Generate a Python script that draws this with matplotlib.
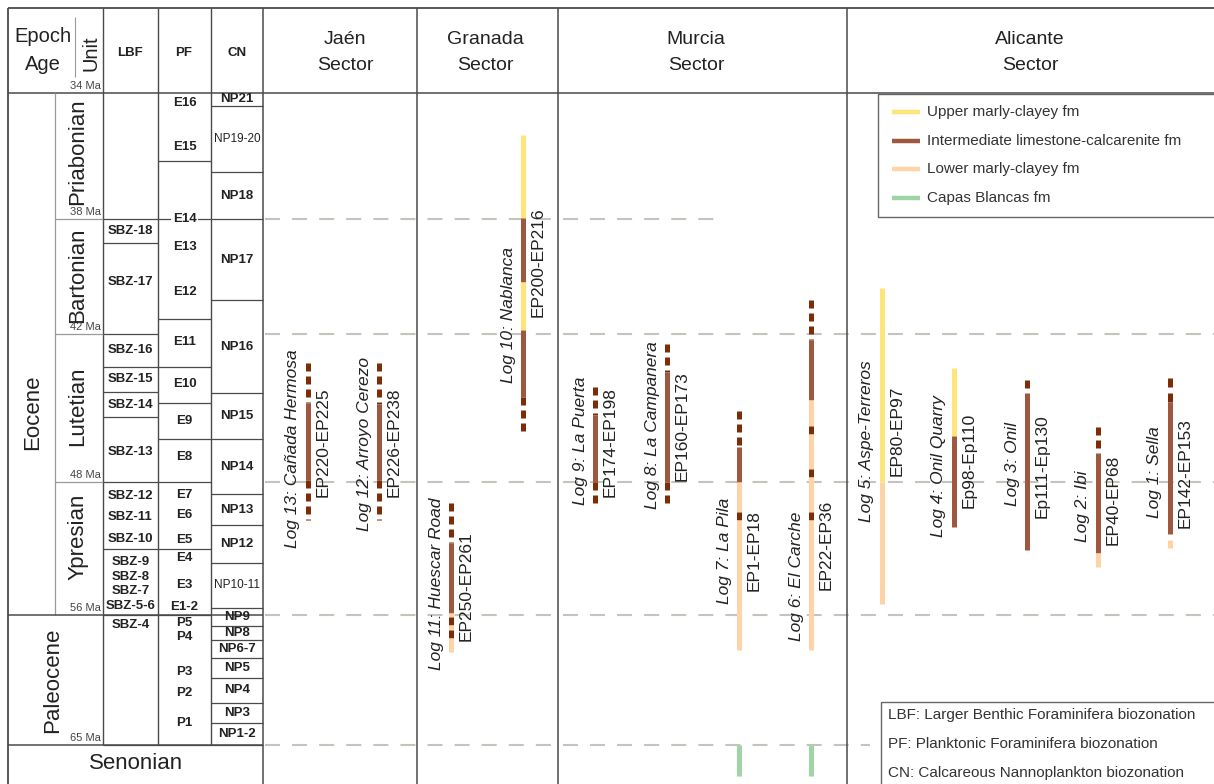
import numpy as np
import matplotlib
matplotlib.use("Agg")
import matplotlib.pyplot as plt
import matplotlib.transforms as mtransforms
from matplotlib.patches import Rectangle

plt.rcParams["font.family"] = ["Liberation Sans", "DejaVu Sans"]

W, H = 1214, 784

# vertical age scale: chart position of each stage boundary (Ma -> row)
SCALE_MA = [34, 38, 42, 48, 56, 65]
SCALE_POS = [93, 219, 334, 482, 615, 745]

# chronostratigraphy
STAGES = ["Priabonian", "Bartonian", "Lutetian", "Ypresian"]
STAGE_BASE_MA = [38, 42, 48, 56]
STAGE_LABEL_MA = [35.87, 39.95, 44.92, 51.31]
AGE_TICKS = [34, 38, 42, 48, 56, 65]
EPOCHS = ["Eocene", "Paleocene"]
EPOCH_LABEL_MA = [45.16, 60.5]

# larger benthic foraminifera (box edges + label ages)
LBF_EDGES = [38, 38.83, 42, 43.34, 44.35, 45.36, 48, 52.03, 56, 65]
LBF_LABELS = ["SBZ-18", "SBZ-17", "SBZ-16", "SBZ-15", "SBZ-14", "SBZ-13",
              "SBZ-12", "SBZ-11", "SBZ-10", "SBZ-9", "SBZ-8", "SBZ-7",
              "SBZ-5-6", "SBZ-4"]
LBF_LABEL_MA = [38.42, 40.19, 42.65, 43.82, 44.88, 46.78, 48.84, 50.11,
                51.43, 52.81, 53.71, 54.56, 55.46, 56.69]

# planktonic foraminifera
PF_EDGES = [36.16, 38, 41.48, 43.34, 44.80, 46.26, 48, 52.03, 56, 65]
PF_LABELS = ["E16", "E15", "E14", "E13", "E12", "E11", "E10", "E9", "E8",
             "E7", "E6", "E5", "E4", "E3", "E1-2", "P5", "P4", "P3", "P2", "P1"]
PF_LABEL_MA = [34.32, 35.71, 38.0, 38.97, 40.54, 42.32, 44.03, 45.53, 46.99,
               48.78, 49.98, 51.49, 52.57, 54.2, 55.52, 56.55, 57.52, 59.95,
               61.4, 63.48]

# calcareous nannoplankton (zone name + base age)
CN_ZONES = ["NP21", "NP19-20", "NP18", "NP17", "NP16", "NP15", "NP14", "NP13",
            "NP12", "NP10-11", "NP9", "NP8", "NP6-7", "NP5", "NP4", "NP3", "NP1-2"]
CN_BASE_MA = [34.41, 36.51, 38.0, 40.82, 44.39, 46.26, 48.72, 50.59, 52.87,
              55.58, 56.76, 57.73, 58.98, 60.36, 62.09, 63.48, 65.0]

# correlation lines across the sectors
CORR_MA = [38, 42, 48, 56, 65]
CORR_END_X = [720, 1214, 1214, 1214, 870]

# logs: U upper marly-clayey, I intermediate limestone-calcarenite,
# L lower marly-clayey, C Capas Blancas, D/x poorly exposed limestone
LOG_NAMES = ["Log 13: Cañada Hermosa", "Log 12: Arroyo Cerezo",
             "Log 11: Huescar Road", "Log 10: Nablanca", "Log 9: La Puerta",
             "Log 8: La Campanera", "Log 7: La Pila", "Log 6: El Carche",
             "Log 5: Aspe-Terreros", "Log 4: Onil Quarry", "Log 3: Onil",
             "Log 2: Ibi", "Log 1: Sella"]
LOG_SAMPLES = ["EP220-EP225", "EP226-EP238", "EP250-EP261", "EP200-EP216",
               "EP174-EP198", "EP160-EP173", "EP1-EP18", "EP22-EP36",
               "EP80-EP97", "Ep98-Ep110", "Ep111-Ep130", "EP40-EP68",
               "EP142-EP153"]
LOG_SEGMENTS = [
    [(43.18, 44.80, "x"), (44.80, 47.92, "I"), (47.92, 50.29, "x")],
    [(43.18, 44.84, "x"), (44.84, 47.92, "I"), (47.92, 50.29, "x")],
    [(49.26, 51.67, "x"), (51.67, 55.88, "I"), (55.88, 56.14, "L"),
     (56.14, 56.69, "D"), (56.69, 57.04, "L"), (57.04, 57.59, "D"),
     (57.59, 58.56, "L")],
    [(35.33, 37.97, "U"), (37.97, 40.19, "I"), (40.19, 41.86, "U"),
     (41.86, 44.55, "I"), (44.55, 45.97, "x")],
    [(44.15, 45.28, "x"), (45.28, 48.0, "I"), (48.0, 49.26, "x")],
    [(42.41, 43.54, "x"), (43.54, 48.0, "I"), (48.0, 49.26, "x")],
    [(45.12, 46.58, "x"), (46.58, 48.0, "I"), (48.0, 49.80, "L"),
     (49.80, 50.29, "D"), (50.29, 58.42, "L"), (65.0, 67.15, "C")],
    [(40.82, 42.24, "x"), (42.24, 44.68, "I"), (44.68, 45.73, "L"),
     (45.73, 46.05, "D"), (46.05, 47.47, "L"), (47.47, 47.80, "D"),
     (47.80, 49.80, "L"), (49.80, 50.29, "D"), (50.29, 58.42, "L"),
     (65.0, 67.15, "C")],
    [(40.40, 48.0, "U"), (48.0, 55.34, "L")],
    [(43.38, 46.13, "U"), (46.13, 50.71, "I")],
    [(43.86, 44.19, "D"), (44.39, 52.09, "I")],
    [(45.77, 46.09, "D"), (46.30, 46.62, "D"), (46.82, 52.27, "I"),
     (52.27, 53.11, "L")],
    [(43.78, 44.15, "D"), (44.39, 44.76, "D"), (44.76, 51.13, "I"),
     (51.49, 51.97, "L")],
]
LOG_X = [308, 379, 451, 523, 595, 667, 739, 811, 882, 954, 1027, 1098, 1170]
LOG_LABEL_MA = [46.64, 46.46, 54.14, 41.34, 46.34, 45.69, 52.15, 53.65,
                46.34, 47.35, 47.27, 49.44, 47.59]
LOG_SAMPLE_MA = [46.38, 46.38, 54.26, 39.5, 46.38, 45.73, 52.15, 51.79,
                 45.93, 47.11, 47.35, 49.08, 47.63]

FM_LABELS = ["Upper marly-clayey fm", "Intermediate limestone-calcarenite fm",
             "Lower marly-clayey fm", "Capas Blancas fm"]
FM_CODES = ["U", "I", "L", "C"]
NOTES = ["LBF: Larger Benthic Foraminifera biozonation",
         "PF: Planktonic Foraminifera biozonation",
         "CN: Calcareous Nannoplankton biozonation"]

COLORS = {"U": "#FFE47A", "I": "#A0573F", "L": "#FFD3A6", "C": "#9FD4A4",
          "D": "#7E2C08", "x": "#7E2C08"}
TXT = "#222222"
LINE = "#4a4a4a"


def _interp_ext(v, xs, ys):
    v = np.asarray(v, dtype=float)
    out = np.interp(v, xs, ys)
    lo = (ys[1] - ys[0]) / (xs[1] - xs[0])
    hi = (ys[-1] - ys[-2]) / (xs[-1] - xs[-2])
    out = np.where(v < xs[0], ys[0] + (v - xs[0]) * lo, out)
    out = np.where(v > xs[-1], ys[-1] + (v - xs[-1]) * hi, out)
    return out


def ma_to_pos(a):
    return _interp_ext(a, SCALE_MA, SCALE_POS)


def pos_to_ma(p):
    return _interp_ext(p, SCALE_POS, SCALE_MA)


def mid_ma(a, b):
    return float(pos_to_ma((ma_to_pos(a) + ma_to_pos(b)) / 2))


fig = plt.figure(figsize=(W / 100, H / 100), dpi=100)
ax = fig.add_axes([0, 0, 1, 1])
ax.set_autoscale_on(False)
ax.set_yscale("function", functions=(ma_to_pos, pos_to_ma))
ax.set_xlim(0, W)
ax.set_ylim(float(pos_to_ma(H)), float(pos_to_ma(0)))
ax.axis("off")

# pixel-style transform for the frame, header and legend boxes
px = mtransforms.Affine2D().scale(1 / W, -1 / H).translate(0, 1) + fig.transFigure


def pline(xs, ys, **kw):
    kw.setdefault("color", LINE)
    kw.setdefault("lw", 1.0)
    ax.plot(xs, ys, transform=px, solid_capstyle="butt", **kw)


# ---- frame
pline([8, W], [8, 8], lw=1.3)
pline([8, W], [93, 93], lw=1.1)
pline([8, 8], [8, H], lw=1.3)
for x in (103, 158, 211):
    pline([x, x], [8, 745])
for x in (263, 417, 558, 847):
    pline([x, x], [8, H], lw=1.1)
pline([75, 75], [17, 77], color="#9a9a9a", lw=0.8)

ax.vlines(55, 34, 56, color="#9a9a9a", lw=0.9)
ax.hlines([56, 65], 8, 263, color=LINE, lw=1.1)
ax.hlines(STAGE_BASE_MA[:-1], 55, 103, color="#9a9a9a", lw=0.9)

# ---- header
ax.text(43, 37, "Epoch", transform=px, ha="center", va="center",
        fontsize=14.5, color=TXT)
ax.text(43, 65, "Age", transform=px, ha="center", va="center",
        fontsize=14.5, color=TXT)
ax.text(91, 53, "Unit", transform=px, ha="center", va="center", rotation=90,
        fontsize=14.5, color=TXT)
for x, t in zip((130, 184, 237), ("LBF", "PF", "CN")):
    ax.text(x, 53, t, transform=px, ha="center", va="center",
            fontsize=9.5, fontweight="bold", color=TXT)
for x, t in zip((345, 485, 696, 1030), ("Jaén", "Granada", "Murcia", "Alicante")):
    ax.text(x, 40, t, transform=px, ha="center", va="center",
            fontsize=14, color=TXT)
    ax.text(x, 66, "Sector", transform=px, ha="center", va="center",
            fontsize=14, color=TXT)

# ---- epochs, stages, ages
for t, m, x in zip(EPOCHS, EPOCH_LABEL_MA, (33, 53)):
    ax.text(x, m, t, rotation=90, ha="center", va="center", fontsize=16,
            color=TXT)
for t, m in zip(STAGES, STAGE_LABEL_MA):
    ax.text(78, m, t, rotation=90, ha="center", va="center", fontsize=16,
            color=TXT)
for a in AGE_TICKS:
    ax.annotate(f"{a} Ma", (101, a), xytext=(0, 1.5), textcoords="offset points",
                ha="right", va="bottom", fontsize=8, color="#444444")
ax.text(136, 66.25, "Senonian", ha="center", va="center", fontsize=16,
        color=TXT)

# ---- biozone columns
ax.hlines(LBF_EDGES, 103, 158, color=LINE, lw=0.9)
ax.hlines(PF_EDGES, 158, 211, color=LINE, lw=0.9)
ax.hlines(CN_BASE_MA, 211, 263, color=LINE, lw=0.9)
for t, m in zip(LBF_LABELS, LBF_LABEL_MA):
    ax.text(130.5, m, t, ha="center", va="center", fontsize=9.5,
            fontweight="bold", color=TXT)
for t, m in zip(PF_LABELS, PF_LABEL_MA):
    bb = dict(facecolor="white", edgecolor="none", pad=1) if m in STAGE_BASE_MA else None
    ax.text(184.5, m, t, ha="center", va="center", fontsize=9.5,
            fontweight="bold", color=TXT, bbox=bb)
top = 34
for t, base in zip(CN_ZONES, CN_BASE_MA):
    small = len(t) > 5
    ax.text(237, mid_ma(top, base), t, ha="center", va="center",
            fontsize=8.5 if small else 9.5,
            fontweight="normal" if small else "bold", color=TXT)
    top = base

# ---- correlation lines
for m, xe in zip(CORR_MA, CORR_END_X):
    ax.plot([265, xe], [m, m], color="#c4c4bc", lw=1.5, ls=(0, (7.2, 5.8)),
            zorder=1)

# ---- logs
for i, x in enumerate(LOG_X):
    for t0, t1, kind in LOG_SEGMENTS[i]:
        ls = (0, (1.6, 1.0)) if kind == "x" else "-"
        ax.plot([x, x], [t0, t1], color=COLORS[kind], lw=3.6, ls=ls,
                solid_capstyle="butt", dash_capstyle="butt", zorder=3)
    ax.text(x - 15, LOG_LABEL_MA[i], LOG_NAMES[i], rotation=90, ha="center",
            va="center", fontsize=12.5, style="italic", color=TXT, zorder=4)
    ax.text(x + 15, LOG_SAMPLE_MA[i], LOG_SAMPLES[i], rotation=90,
            ha="center", va="center", fontsize=12.5, color=TXT, zorder=4)

# ---- formation legend
ax.add_patch(Rectangle((878, 94), 400, 123, transform=px, facecolor="white",
                       edgecolor="#666666", lw=1.0, zorder=5))
for i, (lab, code) in enumerate(zip(FM_LABELS, FM_CODES)):
    y = 112 + i * 28.7
    pline([892, 920], [y, y], color=COLORS[code], lw=3.2, zorder=6)
    ax.text(927, y, lab, transform=px, ha="left", va="center", fontsize=11,
            color="#333333", zorder=6)

# ---- abbreviations box
ax.add_patch(Rectangle((881, 702), 400, 100, transform=px, facecolor="white",
                       edgecolor="#666666", lw=1.0, zorder=5))
for i, note in enumerate(NOTES):
    ax.text(888, 715 + i * 29, note, transform=px, ha="left", va="center",
            fontsize=11, color="#333333", zorder=6)

fig.savefig("out.png", dpi=100)
